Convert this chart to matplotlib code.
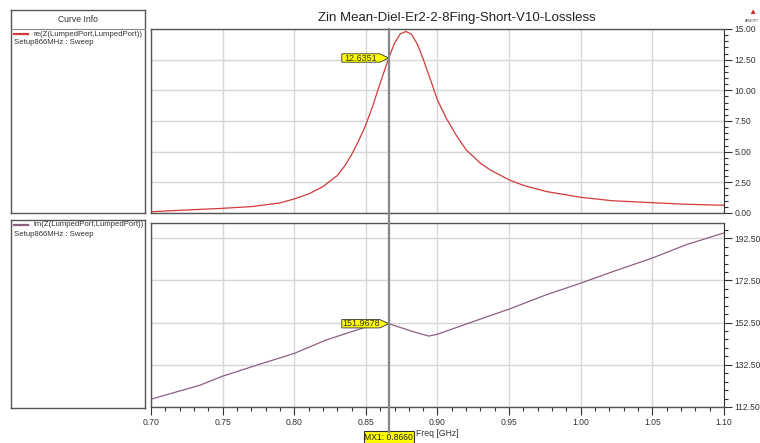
import matplotlib.pyplot as plt
import numpy as np
from matplotlib.patches import Polygon, Rectangle
from matplotlib.lines import Line2D
from matplotlib.ticker import MultipleLocator, FixedLocator

plt.rcParams['font.family'] = ['Liberation Sans', 'DejaVu Sans']

title = "Zin Mean-Diel-Er2-2-8Fing-Short-V10-Lossless"

# re(Z) sweep points
freq_re = [0.70, 0.72, 0.75, 0.77, 0.79, 0.80, 0.81, 0.82, 0.83, 0.835, 0.84, 0.845,
           0.85, 0.855, 0.86, 0.866, 0.870, 0.874, 0.878, 0.882, 0.886, 0.890, 0.895,
           0.90, 0.906, 0.913, 0.92, 0.93, 0.937, 0.95, 0.96, 0.976, 1.00, 1.022,
           1.05, 1.074, 1.10]
re_z = [0.10, 0.22, 0.38, 0.52, 0.82, 1.15, 1.55, 2.15, 3.05, 3.80, 4.75, 5.90,
        7.20, 8.80, 10.6, 12.6351, 13.85, 14.60, 14.80, 14.55, 13.75, 12.55, 10.9,
        9.20, 7.75, 6.35, 5.15, 4.05, 3.50, 2.70, 2.25, 1.75, 1.28, 1.00,
        0.84, 0.71, 0.63]

# im(Z) sweep points
freq_im = [0.70, 0.734, 0.75, 0.776, 0.80, 0.822, 0.85, 0.866, 0.875, 0.883,
           0.894, 0.90, 0.925, 0.95, 0.976, 1.00, 1.023, 1.05, 1.074, 1.10]
im_z = [116.2, 122.8, 127.1, 132.8, 137.9, 144.2, 150.4, 151.9678, 150.0, 148.2,
        146.1, 147.0, 153.0, 158.9, 165.7, 171.2, 176.8, 183.1, 189.5, 195.0]

im_ticks = [112.5, 132.5, 152.5, 172.5, 192.5]

marker_freq = 0.8660
re_label = "12.6351"
im_label = "151.9678"

fig = plt.figure(figsize=(7.6, 4.43), dpi=100)
W, H = 760.0, 443.0

def fbox(x0, y0, x1, y1):
    # pixel box (top-left origin) -> figure fraction rect
    return [x0 / W, 1 - y1 / H, (x1 - x0) / W, (y1 - y0) / H]

ax1 = fig.add_axes(fbox(151, 29, 724, 213))
ax2 = fig.add_axes(fbox(151, 223, 724, 407))

red = '#d23a3a'
mauve = '#8c5f80'

ax1.plot(freq_re, re_z, color=red, linewidth=0.9)
ax2.plot(freq_im, im_z, color=mauve, linewidth=0.9)

ax1.set_xlim(0.70, 1.10)
ax1.set_ylim(0, 15)
ax2.set_xlim(0.70, 1.10)
ax2.set_ylim(112.5, 199.7)

for ax in (ax1, ax2):
    ax.yaxis.tick_right()
    ax.xaxis.set_major_locator(MultipleLocator(0.05))
    ax.grid(True, color='#d6d6d6', linewidth=1.0)
    ax.set_axisbelow(True)
    for s in ('left', 'top', 'bottom'):
        ax.spines[s].set_color('#555555')
        ax.spines[s].set_linewidth(1.0)
    ax.spines['right'].set_color('#333333')
    ax.tick_params(axis='y', which='major', length=6, width=0.8, labelsize=6.2,
                   colors='#333333', pad=1.5)
    ax.tick_params(axis='y', which='minor', length=3, width=0.8, colors='#333333')

ax1.yaxis.set_major_locator(MultipleLocator(2.5))
ax1.yaxis.set_minor_locator(MultipleLocator(0.5))
ax1.yaxis.set_major_formatter(lambda v, p: "%.2f" % v)
ax1.tick_params(axis='x', which='both', length=0, labelbottom=False)

ax2.set_yticks(im_ticks)
step = (im_ticks[1] - im_ticks[0]) / 5
ax2.yaxis.set_minor_locator(FixedLocator(np.arange(im_ticks[0], 200, step)))
ax2.yaxis.set_major_formatter(lambda v, p: "%.2f" % v)
ax2.xaxis.set_minor_locator(MultipleLocator(0.01))
ax2.xaxis.set_major_formatter(lambda v, p: "%.2f" % v)
ax2.tick_params(axis='x', which='major', length=6, width=0.8, labelsize=6.2,
                colors='#333333', pad=2)
ax2.tick_params(axis='x', which='minor', length=3, width=0.8, colors='#333333')
ax2.set_xlabel("Freq [GHz]", fontsize=6.2, color='#333333', labelpad=1)

fig.text(457 / W, 1 - 18 / H, title, fontsize=9.5, ha='center', va='center', color='#222222')

# small vendor logo in the corner
fig.text(752 / W, 1 - 13 / H, u"\u25B2", fontsize=6, color='#c03030', ha='center', va='center')
fig.text(752 / W, 1 - 21 / H, "ANSOFT", fontsize=2.5, color='#444444', ha='center', va='center')

# marker line running through both plots
mx_px = ax1.transData.transform((marker_freq, 0))[0]
fig.add_artist(Line2D([mx_px / W, mx_px / W], [1 - 29 / H, 1 - 432 / H],
                      transform=fig.transFigure, color='#888888', linewidth=1.6))

def flag(ax, x, y, text):
    px, py = ax.transData.transform((x, y))
    h, rw, tip = 4.2, 38, 9
    pts = [(px - tip - rw, py - h), (px - tip, py - h), (px, py),
           (px - tip, py + h), (px - tip - rw, py + h)]
    pts = [(a / W, b / H) for a, b in pts]
    fig.add_artist(Polygon(pts, closed=True, transform=fig.transFigure,
                           facecolor='#ffff00', edgecolor='#333333', linewidth=0.6))
    fig.text((px - tip - rw / 2) / W, py / H, text, fontsize=6.5, ha='center',
             va='center', color='#333333')

flag(ax1, marker_freq, re_z[freq_re.index(marker_freq)], re_label)
flag(ax2, marker_freq, im_z[freq_im.index(marker_freq)], im_label)

# MX1 tag under the x axis
fig.add_artist(Rectangle(((mx_px - 25) / W, 1 - 443 / H), 50 / W, 12 / H,
                         transform=fig.transFigure, facecolor='#ffff00',
                         edgecolor='#333333', linewidth=0.8))
fig.text(mx_px / W, 1 - 437 / H, "MX1: %.4f" % marker_freq, fontsize=6.2,
         ha='center', va='center', color='#222222')

# curve info panels
def info_panel(y0, y1, color, label, header):
    pa = fig.add_axes(fbox(11, y0, 145, y1))
    pa.set_xticks([])
    pa.set_yticks([])
    for s in pa.spines.values():
        s.set_color('#555555')
        s.set_linewidth(1.0)
    top = y0
    if header:
        fig.text(78 / W, 1 - (y0 + 10) / H, "Curve Info", fontsize=6.2,
                 ha='center', va='center', color='#333333')
        fig.add_artist(Line2D([11 / W, 145 / W], [1 - (y0 + 19) / H] * 2,
                              transform=fig.transFigure, color='#888888', linewidth=0.8))
        top = y0 + 19
    fig.add_artist(Line2D([14 / W, 28 / W], [1 - (top + 5) / H] * 2,
                          transform=fig.transFigure, color=color, linewidth=1.6))
    fig.text(33 / W, 1 - (top + 5) / H, label, fontsize=5.6, ha='left',
             va='center', color='#333333')
    fig.text(14 / W, 1 - (top + 14) / H, "Setup866MHz : Sweep", fontsize=5.6,
             ha='left', va='center', color='#333333')

info_panel(10, 213, red, "re(Z(LumpedPort,LumpedPort))", True)
info_panel(220, 408, mauve, "im(Z(LumpedPort,LumpedPort))", False)

plt.savefig('out.png', dpi=100)
